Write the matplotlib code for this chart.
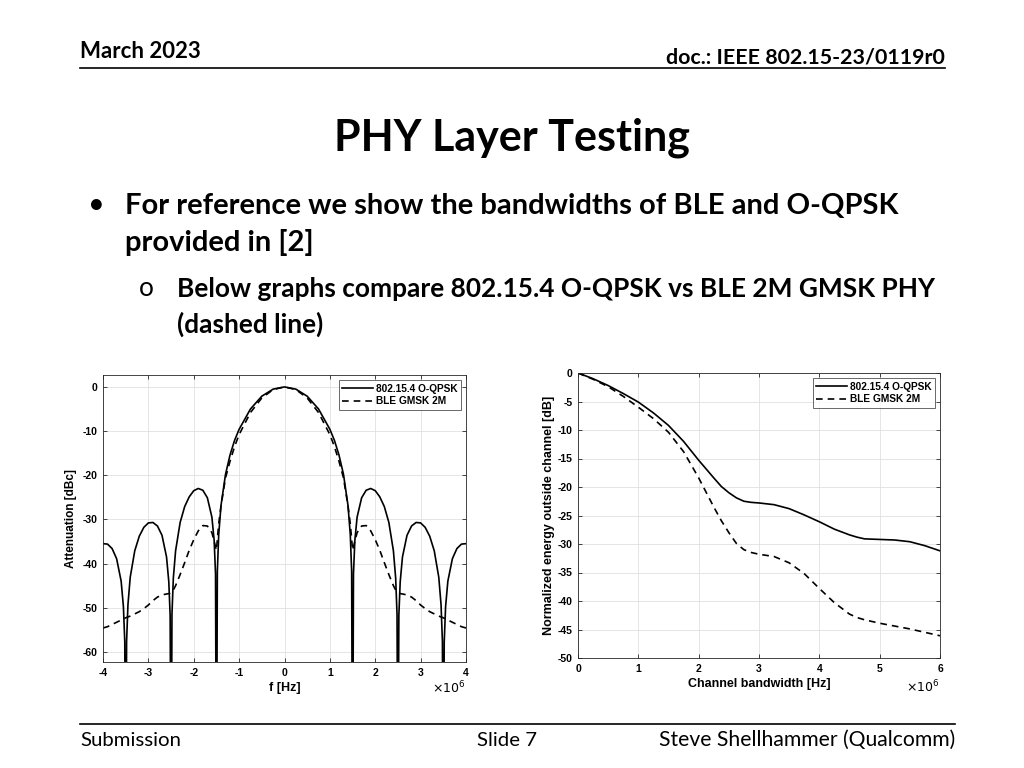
import numpy as np
import matplotlib.pyplot as plt

plt.rcParams['axes.unicode_minus'] = False

# ---- left chart: PSD, positive-frequency half (curve is symmetric) [MHz, dBc]
psd_f = [0, 0.25, 0.5, 0.75, 1.0, 1.1, 1.2, 1.3, 1.4, 1.45, 1.48, 1.5, 1.52, 1.55,
         1.6, 1.7, 1.8, 1.9, 2.0, 2.1, 2.2, 2.3, 2.4, 2.45, 2.48, 2.5, 2.52, 2.55,
         2.6, 2.7, 2.8, 2.9, 3.0, 3.1, 3.2, 3.3, 3.4, 3.45, 3.48, 3.5, 3.52, 3.55,
         3.6, 3.7, 3.8, 3.9, 4.0]
oqpsk_psd = [0, -0.5, -2.1, -5.0, -9.6, -12.1, -15.4, -19.8, -26.9, -33.5, -41.8, -100, -42.4, -34.8,
             -29.5, -25.1, -23.4, -23.0, -23.5, -24.9, -27.1, -30.7, -37.1, -43.3, -51.5, -100, -51.8, -44.1,
             -38.5, -33.6, -31.5, -30.7, -30.8, -31.8, -33.8, -37.1, -43.1, -49.3, -57.6, -100, -57.8, -49.8,
             -44.0, -38.9, -36.6, -35.6, -35.5]
ble_psd = [0, -0.6, -2.5, -5.8, -10.8, -13.5, -16.8, -20.6, -27.0, -31.0, -34.5, -37.0, -36.2, -35.0,
           -33.0, -31.5, -31.4, -32.6, -34.6, -37.0, -39.8, -42.5, -45.0, -46.0, -46.4, -46.6, -46.7, -46.8,
           -46.9, -47.1, -47.6, -48.4, -49.4, -50.2, -50.9, -51.4, -51.9, -52.1, -52.2, -52.3, -52.4, -52.5,
           -52.8, -53.3, -53.8, -54.3, -54.6]

# ---- right chart: energy outside channel [MHz, dB]
bw = [0, 0.25, 0.5, 0.75, 1.0, 1.25, 1.5, 1.75, 2.0, 2.25, 2.375, 2.5, 2.625, 2.75, 2.875, 3.0,
      3.25, 3.5, 3.75, 4.0, 4.25, 4.5, 4.625, 4.75, 5.0, 5.25, 5.5, 5.75, 6.0]
oqpsk_out = [0, -1.0, -2.2, -3.6, -5.1, -7.0, -9.2, -12.0, -15.3, -18.4, -19.9, -21.0, -21.9, -22.5, -22.7, -22.8,
             -23.1, -23.8, -24.9, -26.1, -27.4, -28.4, -28.8, -29.1, -29.2, -29.3, -29.6, -30.3, -31.2]
ble_out = [0, -1.1, -2.4, -4.1, -6.0, -8.0, -10.4, -13.8, -18.4, -23.5, -25.9, -28.0, -29.9, -31.0, -31.5, -31.8,
           -32.2, -33.3, -35.2, -37.8, -40.3, -42.3, -42.9, -43.3, -43.9, -44.4, -44.9, -45.5, -46.1]

legend_labels = ['802.15.4 O-QPSK', 'BLE GMSK 2M']

slide_font = 'Lato'
plot_font = 'Liberation Sans'

fig = plt.figure(figsize=(10.24, 7.68), dpi=100)
fig.patch.set_facecolor('white')

# ---- slide header / footer
fig.text(80 / 1024, 1 - 52 / 768, 'March 2023', fontsize=16, fontweight='bold',
         family=slide_font, ha='left', va='center')
fig.text(945 / 1024, 1 - 57 / 768, 'doc.: IEEE 802.15-23/0119r0', fontsize=15.4, fontweight='bold',
         family=slide_font, ha='right', va='center')
fig.add_artist(plt.Line2D([80 / 1024, 945 / 1024], [1 - 68 / 768, 1 - 68 / 768], color='black', lw=1.2))

fig.text(512 / 1024, 1 - 138 / 768, 'PHY Layer Testing', fontsize=31, fontweight='bold',
         family=slide_font, ha='center', va='center')

fig.text(88 / 1024, 1 - 205 / 768, '•', fontsize=21, family=slide_font, ha='left', va='center')
fig.text(125 / 1024, 1 - 206 / 768, 'For reference we show the bandwidths of BLE and O-QPSK',
         fontsize=21, fontweight='bold', family=slide_font, ha='left', va='center')
fig.text(125 / 1024, 1 - 242 / 768, 'provided in [2]',
         fontsize=21, fontweight='bold', family=slide_font, ha='left', va='center')
fig.text(139 / 1024, 1 - 289 / 768, 'o', fontsize=18.9, family=slide_font, ha='left', va='center')
fig.text(177 / 1024, 1 - 289 / 768, 'Below graphs compare 802.15.4 O-QPSK vs BLE 2M GMSK PHY',
         fontsize=18.9, fontweight='bold', family=slide_font, ha='left', va='center')
fig.text(177 / 1024, 1 - 324 / 768, '(dashed line)',
         fontsize=18.9, fontweight='bold', family=slide_font, ha='left', va='center')

fig.add_artist(plt.Line2D([80 / 1024, 955 / 1024], [1 - 724 / 768, 1 - 724 / 768], color='black', lw=1.2))
fig.text(80 / 1024, 1 - 740 / 768, 'Submission', fontsize=14.7, family=slide_font, ha='left', va='center')
fig.text(507 / 1024, 1 - 740 / 768, 'Slide 7', fontsize=14.7, family=slide_font, ha='center', va='center')
fig.text(955 / 1024, 1 - 740 / 768, 'Steve Shellhammer (Qualcomm)', fontsize=15.2, family=slide_font,
         ha='right', va='center')


def matlab_style(ax):
    ax.grid(True, color='#e0e0e0', lw=0.6)
    ax.set_axisbelow(True)
    for s in ax.spines.values():
        s.set_color('#262626')
        s.set_linewidth(0.6)
    ax.tick_params(direction='in', length=3, width=0.6, color='#262626', labelsize=7.5,
                   top=True, right=True, pad=4)
    for lab in ax.get_xticklabels() + ax.get_yticklabels():
        lab.set_fontweight('bold')
        lab.set_family(plot_font)
    leg = ax.legend(legend_labels, loc='upper right', frameon=True, fancybox=False,
                    handlelength=3.0, borderpad=0.35, labelspacing=0.25, borderaxespad=0.5,
                    handletextpad=0.3, prop={'family': plot_font, 'weight': 'bold', 'size': 7.3})
    leg.get_frame().set_edgecolor('#262626')
    leg.get_frame().set_linewidth(0.6)


# ---- left chart
f_half = np.array(psd_f)
f_full = np.concatenate([-f_half[::-1], f_half[1:]])
oq_full = np.concatenate([np.array(oqpsk_psd)[::-1], np.array(oqpsk_psd)[1:]])
ble_full = np.concatenate([np.array(ble_psd)[::-1], np.array(ble_psd)[1:]])

ax1 = fig.add_axes([103 / 1024, 1 - 662 / 768, 363 / 1024, 287 / 768])
ax1.plot(f_full, oq_full, color='black', lw=1.2)
ax1.plot(f_full, ble_full, color='black', lw=1.2, ls=(0, (4, 3)))
ax1.set_xlim(-4, 4)
ax1.set_ylim(-62.3, 2.7)
ax1.set_xticks(range(-4, 5))
ax1.set_yticks(range(-60, 1, 10))
ax1.set_xlabel('f [Hz]', fontsize=9, fontweight='bold', family=plot_font, labelpad=3)
ax1.set_ylabel('Attenuation [dBc]', fontsize=8.5, fontweight='bold', family=plot_font, labelpad=4)
matlab_style(ax1)
ax1.text(1.0, -0.09, r'$\times10^{6}$', transform=ax1.transAxes, ha='right', va='center', fontsize=9)

# ---- right chart
ax2 = fig.add_axes([578 / 1024, 1 - 658 / 768, 362 / 1024, 285 / 768])
ax2.plot(bw, oqpsk_out, color='black', lw=1.2)
ax2.plot(bw, ble_out, color='black', lw=1.2, ls=(0, (4, 3)))
ax2.set_xlim(0, 6)
ax2.set_ylim(-50, 0)
ax2.set_xticks(range(0, 7))
ax2.set_yticks(range(-50, 1, 5))
ax2.set_xlabel('Channel bandwidth [Hz]', fontsize=9, fontweight='bold', family=plot_font, labelpad=3)
ax2.set_ylabel('Normalized energy outside channel [dB]', fontsize=9, fontweight='bold',
               family=plot_font, labelpad=2)
matlab_style(ax2)
ax2.text(1.0, -0.1, r'$\times10^{6}$', transform=ax2.transAxes, ha='right', va='center', fontsize=9)

fig.savefig('out.png', dpi=100, facecolor='white')
